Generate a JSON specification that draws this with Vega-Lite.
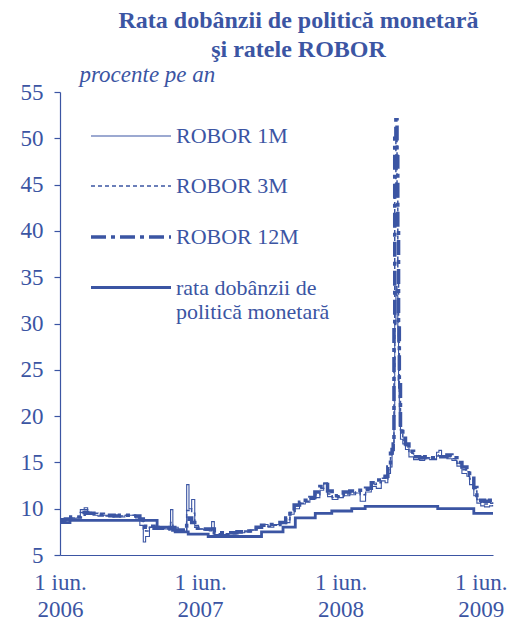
{
  "$schema": "https://vega.github.io/schema/vega-lite/v6.json",
  "width": 433,
  "height": 463,
  "autosize": {"type": "none"},
  "padding": {"left": 60, "top": 92, "right": 27, "bottom": 66},
  "background": "white",
  "config": {
    "view": {"stroke": null},
    "font": "Liberation Serif",
    "legend": {
      "symbolType": "M-4,0L4,0",
      "symbolSize": 400,
      "symbolStrokeColor": "#3b55a3",
      "symbolFillColor": "transparent",
      "symbolOpacity": 1,
      "labelFont": "Liberation Serif",
      "labelFontSize": 22,
      "labelColor": "#3b55a3",
      "labelOffset": 33,
      "labelLimit": 0,
      "rowPadding": 28,
      "labelLineHeight": 28,
      "padding": 0
    }
  },
  "title": {
    "text": ["Rata dobânzii de politică monetară", "şi ratele ROBOR"],
    "font": "Liberation Serif",
    "fontSize": 24,
    "fontWeight": "bold",
    "color": "#3b55a3",
    "anchor": "middle",
    "frame": "group",
    "dx": 22,
    "offset": 1,
    "lineHeight": 29
  },
  "datasets": {
    "rates": [
      {"d": "2006-06-01", "ROBOR 1M": 8.6, "ROBOR 3M": 8.7, "ROBOR 12M": 8.8},
      {"d": "2006-06-15", "ROBOR 1M": 8.7, "ROBOR 3M": 8.8, "ROBOR 12M": 8.9},
      {"d": "2006-06-29", "ROBOR 1M": 8.9, "ROBOR 3M": 9.0, "ROBOR 12M": 9.1},
      {"d": "2006-07-13", "ROBOR 1M": 9.0, "ROBOR 3M": 9.1, "ROBOR 12M": 9.1},
      {"d": "2006-07-24", "ROBOR 1M": 9.9, "ROBOR 3M": 9.6, "ROBOR 12M": 9.4},
      {"d": "2006-08-03", "ROBOR 1M": 10.1, "ROBOR 3M": 9.9, "ROBOR 12M": 9.6},
      {"d": "2006-08-12", "ROBOR 1M": 9.5, "ROBOR 3M": 9.6, "ROBOR 12M": 9.5},
      {"d": "2006-08-26", "ROBOR 1M": 9.3, "ROBOR 3M": 9.5, "ROBOR 12M": 9.5},
      {"d": "2006-09-08", "ROBOR 1M": 9.2, "ROBOR 3M": 9.3, "ROBOR 12M": 9.4},
      {"d": "2006-09-22", "ROBOR 1M": 9.3, "ROBOR 3M": 9.2, "ROBOR 12M": 9.3},
      {"d": "2006-10-06", "ROBOR 1M": 9.1, "ROBOR 3M": 9.2, "ROBOR 12M": 9.3},
      {"d": "2006-10-20", "ROBOR 1M": 9.3, "ROBOR 3M": 9.2, "ROBOR 12M": 9.2},
      {"d": "2006-11-03", "ROBOR 1M": 9.1, "ROBOR 3M": 9.2, "ROBOR 12M": 9.3},
      {"d": "2006-11-17", "ROBOR 1M": 9.3, "ROBOR 3M": 9.3, "ROBOR 12M": 9.3},
      {"d": "2006-12-01", "ROBOR 1M": 9.3, "ROBOR 3M": 9.3, "ROBOR 12M": 9.2},
      {"d": "2006-12-15", "ROBOR 1M": 9.0, "ROBOR 3M": 9.1, "ROBOR 12M": 9.2},
      {"d": "2006-12-26", "ROBOR 1M": 8.2, "ROBOR 3M": 8.7, "ROBOR 12M": 8.9},
      {"d": "2007-01-04", "ROBOR 1M": 6.4, "ROBOR 3M": 7.8, "ROBOR 12M": 8.4},
      {"d": "2007-01-10", "ROBOR 1M": 7.0, "ROBOR 3M": 7.6, "ROBOR 12M": 8.0},
      {"d": "2007-01-20", "ROBOR 1M": 8.0, "ROBOR 3M": 8.0, "ROBOR 12M": 8.1},
      {"d": "2007-02-01", "ROBOR 1M": 8.1, "ROBOR 3M": 8.0, "ROBOR 12M": 7.9},
      {"d": "2007-02-15", "ROBOR 1M": 7.9, "ROBOR 3M": 7.8, "ROBOR 12M": 7.9},
      {"d": "2007-03-01", "ROBOR 1M": 7.8, "ROBOR 3M": 7.8, "ROBOR 12M": 7.8},
      {"d": "2007-03-12", "ROBOR 1M": 8.1, "ROBOR 3M": 7.9, "ROBOR 12M": 7.9},
      {"d": "2007-03-16", "ROBOR 1M": 9.9, "ROBOR 3M": 8.5, "ROBOR 12M": 8.1},
      {"d": "2007-03-22", "ROBOR 1M": 8.0, "ROBOR 3M": 7.7, "ROBOR 12M": 7.7},
      {"d": "2007-04-05", "ROBOR 1M": 7.6, "ROBOR 3M": 7.6, "ROBOR 12M": 7.7},
      {"d": "2007-04-18", "ROBOR 1M": 7.5, "ROBOR 3M": 7.5, "ROBOR 12M": 7.6},
      {"d": "2007-04-27", "ROBOR 1M": 12.6, "ROBOR 3M": 9.8, "ROBOR 12M": 8.5},
      {"d": "2007-05-03", "ROBOR 1M": 10.0, "ROBOR 3M": 10.0, "ROBOR 12M": 9.0},
      {"d": "2007-05-10", "ROBOR 1M": 11.0, "ROBOR 3M": 9.5, "ROBOR 12M": 8.5},
      {"d": "2007-05-18", "ROBOR 1M": 8.2, "ROBOR 3M": 8.0, "ROBOR 12M": 7.9},
      {"d": "2007-05-28", "ROBOR 1M": 7.8, "ROBOR 3M": 7.8, "ROBOR 12M": 7.9},
      {"d": "2007-06-10", "ROBOR 1M": 7.7, "ROBOR 3M": 7.7, "ROBOR 12M": 7.8},
      {"d": "2007-06-25", "ROBOR 1M": 7.6, "ROBOR 3M": 7.7, "ROBOR 12M": 7.8},
      {"d": "2007-07-01", "ROBOR 1M": 8.6, "ROBOR 3M": 7.9, "ROBOR 12M": 7.8},
      {"d": "2007-07-08", "ROBOR 1M": 7.2, "ROBOR 3M": 7.3, "ROBOR 12M": 7.4},
      {"d": "2007-07-25", "ROBOR 1M": 7.2, "ROBOR 3M": 7.3, "ROBOR 12M": 7.4},
      {"d": "2007-08-15", "ROBOR 1M": 7.3, "ROBOR 3M": 7.3, "ROBOR 12M": 7.4},
      {"d": "2007-09-05", "ROBOR 1M": 7.4, "ROBOR 3M": 7.4, "ROBOR 12M": 7.5},
      {"d": "2007-09-25", "ROBOR 1M": 7.5, "ROBOR 3M": 7.6, "ROBOR 12M": 7.6},
      {"d": "2007-10-10", "ROBOR 1M": 7.7, "ROBOR 3M": 7.7, "ROBOR 12M": 7.8},
      {"d": "2007-10-25", "ROBOR 1M": 7.9, "ROBOR 3M": 7.9, "ROBOR 12M": 8.0},
      {"d": "2007-11-08", "ROBOR 1M": 8.3, "ROBOR 3M": 8.1, "ROBOR 12M": 8.2},
      {"d": "2007-11-25", "ROBOR 1M": 8.0, "ROBOR 3M": 8.1, "ROBOR 12M": 8.3},
      {"d": "2007-12-10", "ROBOR 1M": 8.3, "ROBOR 3M": 8.2, "ROBOR 12M": 8.3},
      {"d": "2007-12-26", "ROBOR 1M": 8.4, "ROBOR 3M": 8.4, "ROBOR 12M": 8.5},
      {"d": "2008-01-10", "ROBOR 1M": 8.5, "ROBOR 3M": 8.8, "ROBOR 12M": 9.0},
      {"d": "2008-01-21", "ROBOR 1M": 9.4, "ROBOR 3M": 9.6, "ROBOR 12M": 9.8},
      {"d": "2008-02-01", "ROBOR 1M": 10.0, "ROBOR 3M": 10.3, "ROBOR 12M": 10.4},
      {"d": "2008-02-15", "ROBOR 1M": 10.5, "ROBOR 3M": 10.6, "ROBOR 12M": 10.7},
      {"d": "2008-03-01", "ROBOR 1M": 10.7, "ROBOR 3M": 10.8, "ROBOR 12M": 10.9},
      {"d": "2008-03-13", "ROBOR 1M": 11.0, "ROBOR 3M": 11.1, "ROBOR 12M": 11.2},
      {"d": "2008-03-26", "ROBOR 1M": 11.2, "ROBOR 3M": 11.5, "ROBOR 12M": 11.8},
      {"d": "2008-04-08", "ROBOR 1M": 12.0, "ROBOR 3M": 12.2, "ROBOR 12M": 12.4},
      {"d": "2008-04-18", "ROBOR 1M": 12.8, "ROBOR 3M": 12.7, "ROBOR 12M": 12.6},
      {"d": "2008-04-28", "ROBOR 1M": 11.3, "ROBOR 3M": 11.6, "ROBOR 12M": 11.9},
      {"d": "2008-05-10", "ROBOR 1M": 11.0, "ROBOR 3M": 11.2, "ROBOR 12M": 11.4},
      {"d": "2008-05-25", "ROBOR 1M": 11.2, "ROBOR 3M": 11.3, "ROBOR 12M": 11.5},
      {"d": "2008-06-08", "ROBOR 1M": 11.4, "ROBOR 3M": 11.6, "ROBOR 12M": 11.8},
      {"d": "2008-06-25", "ROBOR 1M": 11.5, "ROBOR 3M": 11.7, "ROBOR 12M": 11.9},
      {"d": "2008-07-10", "ROBOR 1M": 11.7, "ROBOR 3M": 11.8, "ROBOR 12M": 12.0},
      {"d": "2008-07-22", "ROBOR 1M": 10.8, "ROBOR 3M": 11.5, "ROBOR 12M": 12.0},
      {"d": "2008-08-05", "ROBOR 1M": 11.8, "ROBOR 3M": 12.0, "ROBOR 12M": 12.2},
      {"d": "2008-08-20", "ROBOR 1M": 12.4, "ROBOR 3M": 12.6, "ROBOR 12M": 12.8},
      {"d": "2008-09-02", "ROBOR 1M": 12.2, "ROBOR 3M": 12.8, "ROBOR 12M": 13.1},
      {"d": "2008-09-15", "ROBOR 1M": 13.0, "ROBOR 3M": 13.3, "ROBOR 12M": 13.4},
      {"d": "2008-09-25", "ROBOR 1M": 12.8, "ROBOR 3M": 13.2, "ROBOR 12M": 13.5},
      {"d": "2008-10-02", "ROBOR 1M": 13.8, "ROBOR 3M": 14.2, "ROBOR 12M": 14.5},
      {"d": "2008-10-09", "ROBOR 1M": 14.5, "ROBOR 3M": 15.5, "ROBOR 12M": 16.0},
      {"d": "2008-10-13", "ROBOR 1M": 16.0, "ROBOR 3M": 16.3, "ROBOR 12M": 16.4},
      {"d": "2008-10-16", "ROBOR 1M": 16.5, "ROBOR 3M": 17.0, "ROBOR 12M": 17.0},
      {"d": "2008-10-18", "ROBOR 1M": 20.0, "ROBOR 3M": 25.0, "ROBOR 12M": 30.0},
      {"d": "2008-10-20", "ROBOR 1M": 30.0, "ROBOR 3M": 45.0, "ROBOR 12M": 50.0},
      {"d": "2008-10-23", "ROBOR 1M": 34.0, "ROBOR 3M": 50.0, "ROBOR 12M": 52.0},
      {"d": "2008-10-26", "ROBOR 1M": 33.0, "ROBOR 3M": 45.0, "ROBOR 12M": 48.0},
      {"d": "2008-10-28", "ROBOR 1M": 28.0, "ROBOR 3M": 36.0, "ROBOR 12M": 40.0},
      {"d": "2008-10-30", "ROBOR 1M": 23.0, "ROBOR 3M": 28.0, "ROBOR 12M": 30.0},
      {"d": "2008-11-01", "ROBOR 1M": 19.0, "ROBOR 3M": 22.0, "ROBOR 12M": 24.0},
      {"d": "2008-11-04", "ROBOR 1M": 17.5, "ROBOR 3M": 18.5, "ROBOR 12M": 19.0},
      {"d": "2008-11-10", "ROBOR 1M": 17.0, "ROBOR 3M": 17.4, "ROBOR 12M": 17.6},
      {"d": "2008-11-17", "ROBOR 1M": 16.4, "ROBOR 3M": 16.8, "ROBOR 12M": 17.0},
      {"d": "2008-11-26", "ROBOR 1M": 15.6, "ROBOR 3M": 16.0, "ROBOR 12M": 16.2},
      {"d": "2008-12-08", "ROBOR 1M": 15.3, "ROBOR 3M": 15.6, "ROBOR 12M": 15.6},
      {"d": "2008-12-24", "ROBOR 1M": 15.2, "ROBOR 3M": 15.4, "ROBOR 12M": 15.5},
      {"d": "2009-01-06", "ROBOR 1M": 15.4, "ROBOR 3M": 15.5, "ROBOR 12M": 15.6},
      {"d": "2009-01-19", "ROBOR 1M": 15.3, "ROBOR 3M": 15.4, "ROBOR 12M": 15.5},
      {"d": "2009-02-06", "ROBOR 1M": 16.1, "ROBOR 3M": 15.7, "ROBOR 12M": 15.6},
      {"d": "2009-02-12", "ROBOR 1M": 16.3, "ROBOR 3M": 15.8, "ROBOR 12M": 15.6},
      {"d": "2009-02-19", "ROBOR 1M": 15.6, "ROBOR 3M": 15.6, "ROBOR 12M": 15.6},
      {"d": "2009-03-05", "ROBOR 1M": 15.4, "ROBOR 3M": 15.6, "ROBOR 12M": 15.8},
      {"d": "2009-03-18", "ROBOR 1M": 15.2, "ROBOR 3M": 15.4, "ROBOR 12M": 15.5},
      {"d": "2009-03-31", "ROBOR 1M": 14.6, "ROBOR 3M": 14.9, "ROBOR 12M": 15.0},
      {"d": "2009-04-13", "ROBOR 1M": 13.8, "ROBOR 3M": 14.2, "ROBOR 12M": 14.5},
      {"d": "2009-04-26", "ROBOR 1M": 13.5, "ROBOR 3M": 14.0, "ROBOR 12M": 14.3},
      {"d": "2009-05-03", "ROBOR 1M": 12.6, "ROBOR 3M": 13.2, "ROBOR 12M": 13.6},
      {"d": "2009-05-14", "ROBOR 1M": 11.4, "ROBOR 3M": 11.9, "ROBOR 12M": 12.3},
      {"d": "2009-05-22", "ROBOR 1M": 10.6, "ROBOR 3M": 11.0, "ROBOR 12M": 11.2},
      {"d": "2009-06-01", "ROBOR 1M": 10.3, "ROBOR 3M": 10.7, "ROBOR 12M": 10.9},
      {"d": "2009-06-11", "ROBOR 1M": 10.2, "ROBOR 3M": 10.5, "ROBOR 12M": 10.8},
      {"d": "2009-06-24", "ROBOR 1M": 10.3, "ROBOR 3M": 10.6, "ROBOR 12M": 10.9},
      {"d": "2009-07-02", "ROBOR 1M": 10.4, "ROBOR 3M": 10.7, "ROBOR 12M": 11.0},
      {"d": "2006-06-01", "rata dobânzii de politică monetară": 8.5},
      {"d": "2006-06-27", "rata dobânzii de politică monetară": 8.75},
      {"d": "2007-02-09", "rata dobânzii de politică monetară": 8.0},
      {"d": "2007-03-28", "rata dobânzii de politică monetară": 7.5},
      {"d": "2007-05-01", "rata dobânzii de politică monetară": 7.25},
      {"d": "2007-06-22", "rata dobânzii de politică monetară": 7.0},
      {"d": "2007-11-08", "rata dobânzii de politică monetară": 7.5},
      {"d": "2008-01-03", "rata dobânzii de politică monetară": 8.0},
      {"d": "2008-02-04", "rata dobânzii de politică monetară": 9.0},
      {"d": "2008-03-27", "rata dobânzii de politică monetară": 9.5},
      {"d": "2008-05-09", "rata dobânzii de politică monetară": 9.75},
      {"d": "2008-06-30", "rata dobânzii de politică monetară": 10.0},
      {"d": "2008-08-04", "rata dobânzii de politică monetară": 10.25},
      {"d": "2009-02-09", "rata dobânzii de politică monetară": 10.0},
      {"d": "2009-05-14", "rata dobânzii de politică monetară": 9.5},
      {"d": "2009-07-03", "rata dobânzii de politică monetară": 9.5}
    ],
    "ticks": [
      {"d": "2006-06-01"},
      {"d": "2007-06-01"},
      {"d": "2008-06-01"},
      {"d": "2009-06-01"}
    ]
  },
  "encoding": {
    "x": {
      "field": "d",
      "type": "temporal",
      "scale": {
        "type": "utc",
        "domain": [
          {"year": 2006, "month": 6, "date": 1, "utc": true},
          {"year": 2009, "month": 7, "date": 3, "utc": true}
        ]
      },
      "axis": {
        "title": null,
        "values": [
          {"year": 2006, "month": 6, "date": 1, "utc": true},
          {"year": 2007, "month": 6, "date": 1, "utc": true},
          {"year": 2008, "month": 6, "date": 1, "utc": true},
          {"year": 2009, "month": 6, "date": 1, "utc": true}
        ],
        "labelExpr": "['1 iun.', utcFormat(datum.value, '%Y')]",
        "labelFont": "Liberation Serif",
        "labelFontSize": 23,
        "labelColor": "#3b55a3",
        "labelLineHeight": 27,
        "labelPadding": 16,
        "labelFlush": false,
        "labelOverlap": false,
        "labelBound": false,
        "ticks": false,
        "grid": false,
        "domainColor": "#3b55a3",
        "domainWidth": 1.2
      }
    },
    "y": {
      "field": "v",
      "type": "quantitative",
      "scale": {"domain": [5, 55], "nice": false, "zero": false},
      "axis": {
        "title": "procente pe an",
        "titleFont": "Liberation Serif",
        "titleFontSize": 23,
        "titleFontStyle": "italic",
        "titleFontWeight": "normal",
        "titleColor": "#3b55a3",
        "titleAngle": 0,
        "titleAlign": "left",
        "titleBaseline": "alphabetic",
        "titleX": 19,
        "titleY": -11,
        "values": [5, 10, 15, 20, 25, 30, 35, 40, 45, 50, 55],
        "labelFont": "Liberation Serif",
        "labelFontSize": 23,
        "labelColor": "#3b55a3",
        "labelPadding": 11,
        "tickSize": 6,
        "tickColor": "#3b55a3",
        "tickWidth": 1.2,
        "domainColor": "#3b55a3",
        "domainWidth": 1.2,
        "grid": false
      }
    }
  },
  "layer": [
    {
      "data": {"name": "rates"},
      "transform": [
        {"fold": ["rata dobânzii de politică monetară", "ROBOR 1M", "ROBOR 3M", "ROBOR 12M"], "as": ["s", "v"]},
        {"filter": "isValid(datum.v)"}
      ],
      "mark": {"type": "line", "interpolate": "step-after", "color": "#3b55a3"},
      "encoding": {
        "strokeDash": {
          "field": "s",
          "type": "nominal",
          "scale": {
            "domain": ["ROBOR 1M", "ROBOR 3M", "ROBOR 12M", "rata dobânzii de politică monetară"],
            "range": [[], [4, 3], [15, 5, 4, 5], []]
          },
          "legend": {
            "title": null,
            "orient": "none",
            "legendX": 59,
            "legendY": 33,
            "labelExpr": "datum.label == 'rata dobânzii de politică monetară' ? ['rata dobânzii de', 'politică monetară'] : datum.label"
          }
        },
        "strokeWidth": {
          "field": "s",
          "type": "nominal",
          "scale": {
            "type": "ordinal",
            "domain": ["ROBOR 1M", "ROBOR 3M", "ROBOR 12M", "rata dobânzii de politică monetară"],
            "range": [1.1, 1.5, 3.5, 2.8]
          },
          "legend": {
            "title": null,
            "orient": "none",
            "legendX": 59,
            "legendY": 33,
            "labelExpr": "datum.label == 'rata dobânzii de politică monetară' ? ['rata dobânzii de', 'politică monetară'] : datum.label"
          }
        }
      }
    },
    {
      "data": {"name": "ticks"},
      "mark": {"type": "tick", "orient": "vertical", "size": 13, "thickness": 1.5, "color": "#3b55a3"},
      "encoding": {
        "y": {"datum": 5}
      }
    }
  ]
}
